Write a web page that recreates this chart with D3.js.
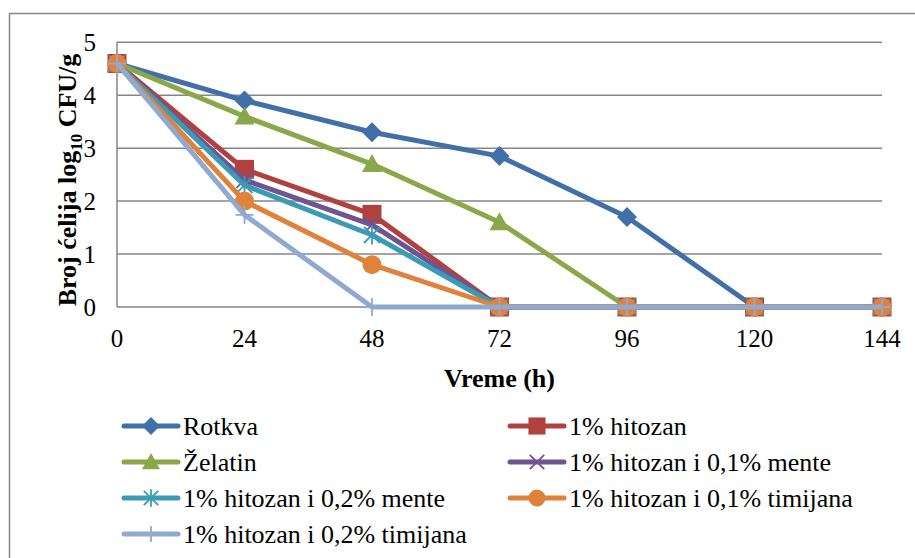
<!DOCTYPE html>
<html><head><meta charset="utf-8">
<script src="https://cdn.jsdelivr.net/npm/d3@7"></script>
</head>
<body style="margin:0"><svg id="c" width="915" height="558"></svg>
<script>
const hours = [0, 24, 48, 72, 96, 120, 144];
const yTicks = [0, 1, 2, 3, 4, 5];
const seriesNames = ["Rotkva", "1% hitozan", "Želatin", "1% hitozan i 0,1% mente",
  "1% hitozan i 0,2% mente", "1% hitozan i 0,1% timijana", "1% hitozan i 0,2% timijana"];
const rotkva      = [4.6, 3.9, 3.3, 2.85, 1.7, 0, 0];
const hitozan     = [4.6, 2.6, 1.75, 0, 0, 0, 0];
const zelatin     = [4.6, 3.6, 2.7, 1.6, 0, 0, 0];
const mente01     = [4.6, 2.4, 1.55, 0, 0, 0, 0];
const mente02     = [4.6, 2.3, 1.36, 0, 0, 0, 0];
const timijana01  = [4.6, 2.0, 0.8, 0, 0, 0, 0];
const timijana02  = [4.6, 1.74, 0, 0, 0, 0, 0];
const seriesValues = [rotkva, hitozan, zelatin, mente01, mente02, timijana01, timijana02];
const colors = ["#4170a8", "#b0413e", "#8aa84a", "#6e5592", "#3c9bb4", "#e0823a", "#8fa9d0"];
const markers = ["diamond", "square", "triangle", "x", "asterisk", "circle", "plus"];

const FONT = "'Times New Roman'";
const svg = d3.select("#c");
const L = 117, R = 882, T = 42.3, B = 307;
const x = d3.scaleLinear().domain([0, 144]).range([L, R]);
const y = d3.scaleLinear().domain([0, 5]).range([B, T]);
const grid = "#868686";

// outer border
svg.append("rect").attr("x", 9.5).attr("y", 13.5).attr("width", 1000).attr("height", 1000)
  .attr("fill", "none").attr("stroke", grid).attr("stroke-width", 1.5);

// gridlines
svg.append("g").selectAll("line").data(yTicks).join("line")
  .attr("x1", L).attr("x2", R).attr("y1", d => y(d)).attr("y2", d => y(d))
  .attr("stroke", grid).attr("stroke-width", 1.5);
svg.append("line").attr("x1", L).attr("x2", L).attr("y1", T).attr("y2", B)
  .attr("stroke", grid).attr("stroke-width", 1.5);

// tick labels from the scales
svg.append("g").selectAll("text").data(yTicks).join("text")
  .attr("x", L - 21).attr("y", d => y(d) + 8.5).attr("text-anchor", "end")
  .attr("font-size", 25).style("font-family", FONT).text(d => d);

svg.append("g").selectAll("text").data(hours).join("text")
  .attr("x", d => x(d)).attr("y", B + 40).attr("text-anchor", "middle")
  .attr("font-size", 25).style("font-family", FONT).text(d => d);

// axis titles
svg.append("text").attr("x", (L + R) / 2).attr("y", 386.5).attr("text-anchor", "middle")
  .style("font-family", FONT).attr("font-size", 26).attr("font-weight", "bold").text("Vreme (h)");
const yl = svg.append("text").attr("transform", "translate(76,180) rotate(-90)")
  .style("font-family", FONT).attr("text-anchor", "middle").attr("font-size", 26).attr("font-weight", "bold");
yl.append("tspan").text("Broj ćelija log");
yl.append("tspan").attr("font-size", 17).attr("dy", 6).text("10");
yl.append("tspan").attr("dy", -6).text(" CFU/g");

function drawMarker(g, type, cx, cy, color, s) {
  s = s || 1;
  if (type === "diamond") {
    const r = 10 * s;
    g.append("path").attr("d", `M${cx},${cy - r}L${cx + r},${cy}L${cx},${cy + r}L${cx - r},${cy}Z`).attr("fill", color);
  } else if (type === "square") {
    const r = 9.5 * s;
    g.append("rect").attr("x", cx - r).attr("y", cy - r).attr("width", 2 * r).attr("height", 2 * r).attr("fill", color);
  } else if (type === "triangle") {
    const r = 10 * s;
    g.append("path").attr("d", `M${cx},${cy - r}L${cx + r},${cy + r * 0.8}L${cx - r},${cy + r * 0.8}Z`).attr("fill", color);
  } else if (type === "circle") {
    g.append("circle").attr("cx", cx).attr("cy", cy).attr("r", 9.5 * s).attr("fill", color);
  } else if (type === "x") {
    const r = 8 * s;
    g.append("path").attr("d", `M${cx - r},${cy - r}L${cx + r},${cy + r}M${cx - r},${cy + r}L${cx + r},${cy - r}`)
      .attr("stroke", color).attr("stroke-width", 1.8).attr("fill", "none");
  } else if (type === "asterisk") {
    const r = 8 * s;
    g.append("path").attr("d", `M${cx - r},${cy - r}L${cx + r},${cy + r}M${cx - r},${cy + r}L${cx + r},${cy - r}M${cx},${cy - r * 1.2}L${cx},${cy + r * 1.2}`)
      .attr("stroke", color).attr("stroke-width", 1.8).attr("fill", "none");
  } else if (type === "plus") {
    const r = 9 * s;
    g.append("path").attr("d", `M${cx - r},${cy}L${cx + r},${cy}M${cx},${cy - r}L${cx},${cy + r}`)
      .attr("stroke", color).attr("stroke-width", 1.8).attr("fill", "none");
  }
}

const line = d3.line().x((d, i) => x(hours[i])).y(d => y(d));
seriesValues.forEach((vals, si) => {
  const g = svg.append("g");
  g.append("path").datum(vals).attr("d", line).attr("fill", "none")
    .attr("stroke", colors[si]).attr("stroke-width", 5).attr("stroke-linejoin", "round");
  vals.forEach((v, i) => drawMarker(g, markers[si], x(hours[i]), y(v), colors[si]));
});

// legend
const legX = [124, 510], legY0 = 426, legDy = 36;
seriesNames.forEach((name, i) => {
  const col = i % 2, row = Math.floor(i / 2);
  const lx = legX[col], ly = legY0 + row * legDy;
  const g = svg.append("g");
  g.append("line").attr("x1", lx).attr("x2", lx + 54).attr("y1", ly).attr("y2", ly)
    .attr("stroke", colors[i]).attr("stroke-width", 5).attr("stroke-linecap", "round");
  drawMarker(g, markers[i], lx + 27, ly, colors[i], 0.9);
  g.append("text").attr("x", lx + 59).attr("y", ly + 9).style("font-family", FONT)
    .attr("font-size", 26).text(name);
});
</script></body></html>
